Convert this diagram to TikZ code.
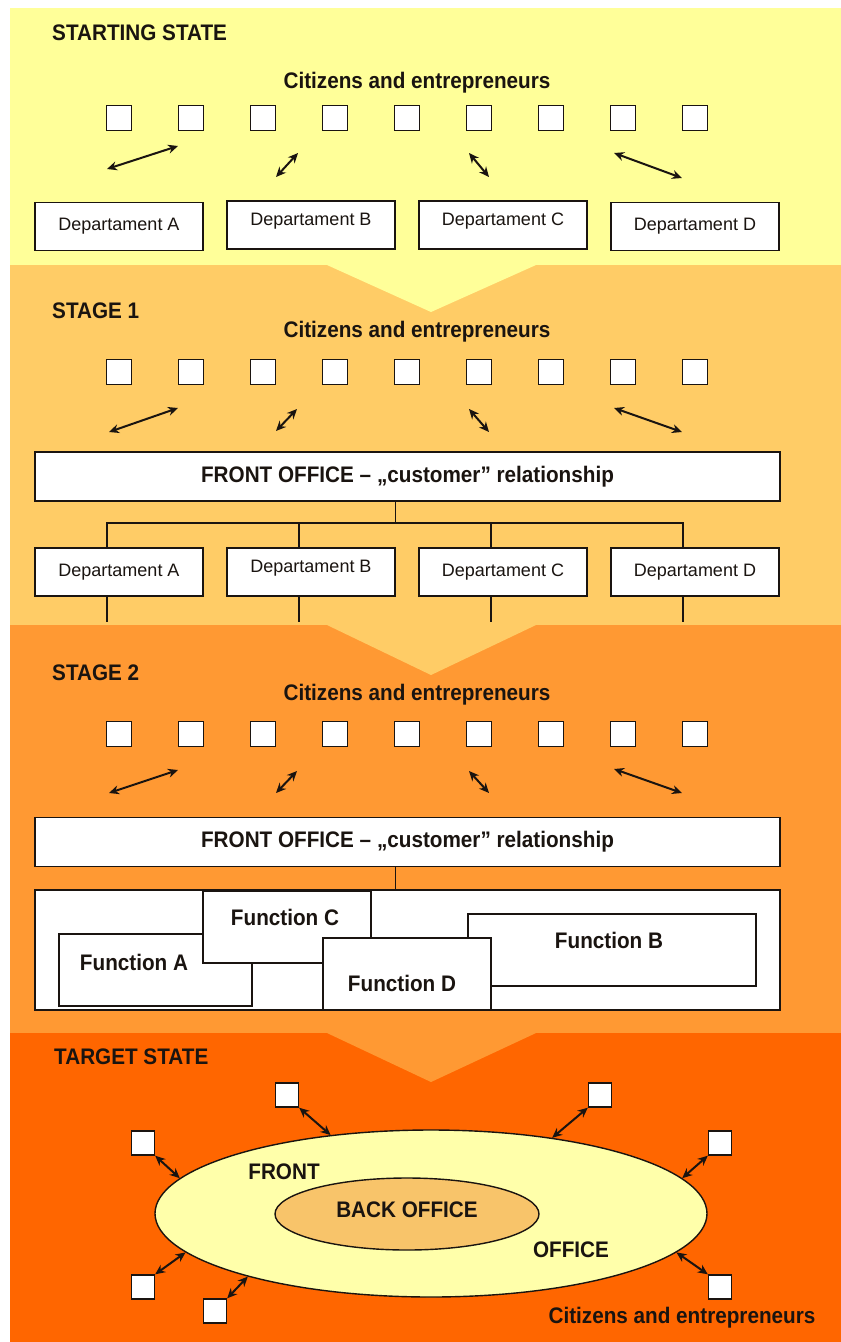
\documentclass[tikz,border=0pt]{standalone}
\usepackage{fontspec}
\setmainfont{Liberation Sans}
\newfontfamily\narrowbold[FakeStretch=0.92]{Liberation Sans Bold}
\usepackage{xcolor}
\usetikzlibrary{arrows.meta,shapes.geometric}

\definecolor{bandA}{HTML}{FFFF99}
\definecolor{bandB}{HTML}{FFCC66}
\definecolor{bandC}{HTML}{FF9933}
\definecolor{bandD}{HTML}{FF6600}
\definecolor{frontfill}{HTML}{FFFFAA}
\definecolor{backfill}{HTML}{F8C46A}
\definecolor{ink}{HTML}{1A1410}

\begin{document}
\begin{tikzpicture}[x=1pt, y=-1pt, every node/.style={font=\fontsize{18}{20}\selectfont, text=ink},
  hd/.style={font=\fontsize{22.5}{25}\narrowbold, anchor=west, inner sep=0pt},
  cit/.style={font=\fontsize{22.5}{25}\narrowbold, inner sep=0pt},
  sq/.style={draw=ink, line width=1.4pt, fill=white, minimum width=25pt, minimum height=25pt, inner sep=0pt},
  dept/.style={draw=ink, line width=1.4pt, fill=white, minimum width=168pt, minimum height=48pt, inner sep=0pt},
  dup/.style={text depth=12pt},
  fobox/.style={draw=ink, line width=1.4pt, fill=white, minimum width=745pt, minimum height=49pt, inner sep=0pt,
    font=\fontsize{22.5}{25}\narrowbold},
  func/.style={draw=ink, line width=1.4pt, fill=white, inner sep=0pt},
  ftxt/.style={font=\fontsize{22.5}{25}\narrowbold, inner sep=0pt},
  link/.style={draw=ink, line width=1.4pt},
  arr/.style={{Stealth[length=10pt,width=9pt]}-{Stealth[length=10pt,width=9pt]}, draw=ink, line width=2pt}]

\fill[white] (0,0) rectangle (841,1342);
\useasboundingbox (0,0) rectangle (841,1342);

% bands and chevrons
\fill[bandA] (10,8) rectangle (841,265);
\fill[bandB] (10,265) rectangle (841,625);
\fill[bandC] (10,625) rectangle (841,1033);
\fill[bandD] (10,1033) rectangle (841,1342);
\fill[bandA] (327,265) -- (536,265) -- (431,312) -- cycle;
\fill[bandB] (327,625) -- (536,625) -- (431,675) -- cycle;
\fill[bandC] (327,1033) -- (536,1033) -- (431,1082) -- cycle;

% starting state
\node[hd] (h0) at (52,33) {STARTING STATE};
\node[cit] (c0) at (417,83) {Citizens and entrepreneurs};
\foreach \i in {1,...,9}
  \node[sq] (s0\i) at ({119+72*(\i-1)},118) {};
\node[dept] (d0a) at (119,226.5) {Departament A};
\node[dept, dup] (d0b) at (311,225) {Departament B};
\node[dept, dup] (d0c) at (503,225) {Departament C};
\node[dept] (d0d) at (695,226.5) {Departament D};

% stage 1
\node[hd] (h1) at (52,311) {STAGE 1};
\node[cit] (c1) at (417,332) {Citizens and entrepreneurs};
\foreach \i in {1,...,9}
  \node[sq] (s1\i) at ({119+72*(\i-1)},372) {};
\node[fobox] (fo1) at (407.5,476.5) {FRONT OFFICE – „customer” relationship};
\node[dept] (d1a) at (119,572) {Departament A};
\node[dept, dup] (d1b) at (311,572) {Departament B};
\node[dept] (d1c) at (503,572) {Departament C};
\node[dept] (d1d) at (695,572) {Departament D};
\coordinate (bus) at (0,523);
\coordinate (cut) at (0,622);
\draw[link] ([xshift=-12]fo1.south) -- ([xshift=-12]fo1.south |- bus);
\draw[link] ([xshift=-12]d1a.north) -- ([xshift=-12]d1a.north |- bus) -| ([xshift=-12]d1d.north);
\foreach \d in {b,c}
  \draw[link] ([xshift=-12]d1\d.north) -- ([xshift=-12]d1\d.north |- bus);
\foreach \d in {a,b,c,d}
  \draw[link] ([xshift=-12]d1\d.south) -- ([xshift=-12]d1\d.south |- cut);

% stage 2
\node[hd] (h2) at (52,673) {STAGE 2};
\node[cit] (c2) at (417,695) {Citizens and entrepreneurs};
\foreach \i in {1,...,9}
  \node[sq] (s2\i) at ({119+72*(\i-1)},734) {};
\node[fobox] (fo2) at (407.5,842) {FRONT OFFICE – „customer” relationship};
\node[func, minimum width=745pt, minimum height=120pt] (fall) at (407.5,950) {};
\draw[link] ([xshift=-12]fo2.south) -- ([xshift=-12]fo2.south |- fall.north);
\node[func, minimum width=193pt, minimum height=72pt] (fa) at (155.5,970) {};
\node[ftxt] (fat) at (134,962) {Function A};
\node[func, minimum width=168pt, minimum height=72pt] (fc) at (287,927) {};
\node[ftxt] (fct) at (285,917) {Function C};
\node[func, minimum width=288pt, minimum height=72pt] (fb) at (612,950) {};
\node[ftxt] (fbt) at (609,940) {Function B};
\node[func, minimum width=168pt, minimum height=72pt] (fd) at (407,974) {};
\node[ftxt] (fdt) at (402,983) {Function D};

% free arrows between citizens and offices
\foreach \n/\xa/\ya/\xb/\yb in {
    a/107/169/178/146, b/276/177/298/153, c/469/153/489/177, d/614/153/682/178,
    e/109/432/178/408, f/276/431/297/409, g/469/409/489/432, h/614/408/682/432,
    i/109/793/178/770, j/276/793/297/771, k/469/771/489/793, l/614/769/682/793} {
  \coordinate (p\n) at (\xa,\ya);
  \coordinate (q\n) at (\xb,\yb);
  \draw[arr] (p\n) -- (q\n);
}

% target state
\node[hd] (h3) at (54,1057) {TARGET STATE};
\node[ellipse, draw=ink, line width=1.4pt, fill=frontfill, minimum width=552pt, minimum height=167pt, inner sep=0pt] (front) at (431,1213.5) {};
\node[ellipse, draw=ink, line width=1.4pt, fill=backfill, minimum width=264pt, minimum height=72pt, inner sep=0pt,
  font=\fontsize{22.5}{25}\narrowbold, text depth=8pt] (back) at (407,1214) {BACK OFFICE};
\node[ftxt] (ft) at (284,1172) {FRONT};
\node[ftxt] (ot) at (571,1250) {OFFICE};
\node[cit] (c3) at (682,1318) {Citizens and entrepreneurs};
\node[sq, minimum width=23pt, minimum height=24pt] (t1) at (287,1095) {};
\node[sq, minimum width=23pt, minimum height=24pt] (t2) at (600,1095) {};
\node[sq, minimum width=23pt, minimum height=24pt] (t3) at (143,1143) {};
\node[sq, minimum width=23pt, minimum height=24pt] (t4) at (720,1143) {};
\node[sq, minimum width=23pt, minimum height=24pt] (t5) at (143,1287) {};
\node[sq, minimum width=23pt, minimum height=24pt] (t6) at (215,1311) {};
\node[sq, minimum width=23pt, minimum height=24pt] (t7) at (720,1287) {};
\draw[arr] (t1.south east) -- (front.142);
\draw[arr] (t2.south west) -- (front.32.5);
\draw[arr] (t3.south east) -- (front.172);
\draw[arr] (t4.south west) -- (front.8);
\draw[arr] (t5.north east) -- (front.189);
\draw[arr] (t6.north east) -- (front.199);
\draw[arr] (t7.north west) -- (front.351);
\end{tikzpicture}
\end{document}
